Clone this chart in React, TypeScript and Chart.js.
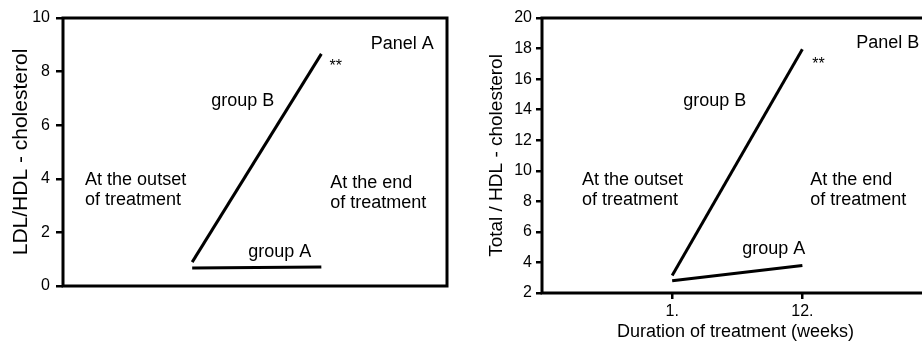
import React, { useEffect, useRef } from "react";
import { Chart, registerables } from "chart.js";

Chart.register(...registerables);

// ---- data ----
const weeks = [1, 12];
const weekTickLabels = ["1.", "12."];

const ldlHdlGroupA = [0.67, 0.71];
const ldlHdlGroupB = [0.89, 8.66];

const totalHdlGroupA = [2.8, 3.8];
const totalHdlGroupB = [3.15, 17.95];

const panelATitle = "LDL/HDL - cholesterol";
const panelBTitle = "Total / HDL - cholesterol";
const xTitle = "Duration of treatment (weeks)";

type Note = { lines: string[]; x: number; y: number; size: number };

const panelANotes: Note[] = [
  { lines: ["Panel A"], x: 16.2, y: 8.84, size: 18 },
  { lines: ["**"], x: 12.7, y: 8.04, size: 16 },
  { lines: ["group B"], x: 2.62, y: 6.72, size: 18 },
  { lines: ["At the outset", "of treatment"], x: -8.12, y: 3.77, size: 18 },
  { lines: ["At the end", "of treatment"], x: 12.76, y: 3.66, size: 18 },
  { lines: ["group A"], x: 5.77, y: 1.08, size: 18 },
];

const panelBNotes: Note[] = [
  { lines: ["Panel B"], x: 16.56, y: 18.03, size: 18 },
  { lines: ["**"], x: 12.84, y: 16.66, size: 16 },
  { lines: ["group B"], x: 1.93, y: 14.24, size: 18 },
  { lines: ["At the outset", "of treatment"], x: -6.62, y: 9.07, size: 18 },
  { lines: ["At the end", "of treatment"], x: 12.67, y: 9.07, size: 18 },
  { lines: ["group A"], x: 6.92, y: 4.55, size: 18 },
];

const FONT = "'Liberation Sans', Arial, sans-serif";

const boxPlugin = {
  id: "boxPlugin",
  afterDraw(chart: any) {
    const { ctx, chartArea } = chart;
    ctx.save();
    ctx.strokeStyle = "#000";
    ctx.lineWidth = 3;
    ctx.strokeRect(chartArea.left, chartArea.top, chartArea.right - chartArea.left, chartArea.bottom - chartArea.top);
    ctx.restore();
  },
};

const notesPlugin = {
  id: "notesPlugin",
  afterDraw(chart: any, _args: any, opts: any) {
    const notes: Note[] = opts.notes || [];
    const { ctx } = chart;
    const xs = chart.scales.x;
    const ys = chart.scales.y;
    ctx.save();
    ctx.fillStyle = "#000";
    ctx.textAlign = "left";
    ctx.textBaseline = "alphabetic";
    notes.forEach((n) => {
      ctx.font = `${n.size}px ${FONT}`;
      const px = xs.getPixelForValue(n.x);
      const py = ys.getPixelForValue(n.y);
      n.lines.forEach((l, i) => ctx.fillText(l, px, py + i * 20));
    });
    ctx.restore();
  },
};

function lineDataset(values: number[]) {
  return {
    data: weeks.map((w, i) => ({ x: w, y: values[i] })),
    borderColor: "#000",
    borderWidth: 3,
    pointRadius: 0,
    fill: false,
    tension: 0,
  };
}

function PanelA() {
  const ref = useRef<HTMLCanvasElement>(null);
  useEffect(() => {
    const chart = new Chart(ref.current!, {
      type: "line",
      data: { datasets: [lineDataset(ldlHdlGroupA), lineDataset(ldlHdlGroupB)] as any },
      plugins: [boxPlugin, notesPlugin],
      options: {
        animation: false,
        responsive: false,
        devicePixelRatio: 1,
        layout: { padding: { left: 0, top: 18, right: 13, bottom: 57 } },
        plugins: {
          legend: { display: false },
          tooltip: { enabled: false },
          notesPlugin: { notes: panelANotes },
        } as any,
        scales: {
          x: { type: "linear", min: -10, max: 22.7, display: false },
          y: {
            min: 0,
            max: 10,
            ticks: { stepSize: 2, color: "#000", padding: 6, font: { family: FONT, size: 16 } },
            grid: { drawOnChartArea: false, tickLength: 7, color: "#000", lineWidth: 2.5 },
            border: { display: false },
            title: {
              display: true,
              text: panelATitle,
              color: "#000",
              font: { family: FONT, size: 21 },
              padding: { top: 9, bottom: 0 },
            },
            afterFit: (s: any) => {
              s.width = 63;
            },
          },
        },
      },
    });
    return () => chart.destroy();
  }, []);
  return (
    <canvas ref={ref} width={460} height={343} style={{ position: "absolute", left: 0, top: 0, width: 460, height: 343 }} />
  );
}

function PanelB() {
  const ref = useRef<HTMLCanvasElement>(null);
  useEffect(() => {
    const chart = new Chart(ref.current!, {
      type: "line",
      data: { datasets: [lineDataset(totalHdlGroupA), lineDataset(totalHdlGroupB)] as any },
      plugins: [boxPlugin, notesPlugin],
      options: {
        animation: false,
        responsive: false,
        devicePixelRatio: 1,
        layout: { padding: { left: 0, top: 18, right: 11, bottom: 0 } },
        plugins: {
          legend: { display: false },
          tooltip: { enabled: false },
          notesPlugin: { notes: panelBNotes },
        } as any,
        scales: {
          x: {
            type: "linear",
            min: -10,
            max: 22.7,
            afterBuildTicks: (s: any) => {
              s.ticks = weeks.map((w) => ({ value: w }));
            },
            ticks: {
              color: "#000",
              padding: 3,
              maxRotation: 0,
              autoSkip: false,
              font: { family: FONT, size: 16 },
              callback: (v: any) => {
                const i = weeks.indexOf(Number(v));
                return i >= 0 ? weekTickLabels[i] : "";
              },
            },
            grid: { drawOnChartArea: false, tickLength: 6, color: "#000", lineWidth: 2.5 },
            border: { display: false },
            title: {
              display: true,
              text: xTitle,
              color: "#000",
              font: { family: FONT, size: 18 },
              padding: { top: 0, bottom: 0 },
            },
            afterFit: (s: any) => {
              s.height = 50;
            },
          },
          y: {
            min: 2,
            max: 20,
            ticks: { stepSize: 2, color: "#000", padding: 4, font: { family: FONT, size: 16 } },
            grid: { drawOnChartArea: false, tickLength: 6, color: "#000", lineWidth: 2.5 },
            border: { display: false },
            title: {
              display: true,
              text: panelBTitle,
              color: "#000",
              font: { family: FONT, size: 19 },
              padding: { top: 25, bottom: 0 },
            },
            afterFit: (s: any) => {
              s.width = 82;
            },
          },
        },
      },
    });
    return () => chart.destroy();
  }, []);
  return (
    <canvas ref={ref} width={480} height={343} style={{ position: "absolute", left: 460, top: 0, width: 480, height: 343 }} />
  );
}

export default function App() {
  return (
    <div
      style={{
        position: "fixed",
        left: 0,
        top: 0,
        width: 922,
        height: 343,
        overflow: "hidden",
        background: "#fff",
      }}
    >
      <PanelA />
      <PanelB />
    </div>
  );
}
